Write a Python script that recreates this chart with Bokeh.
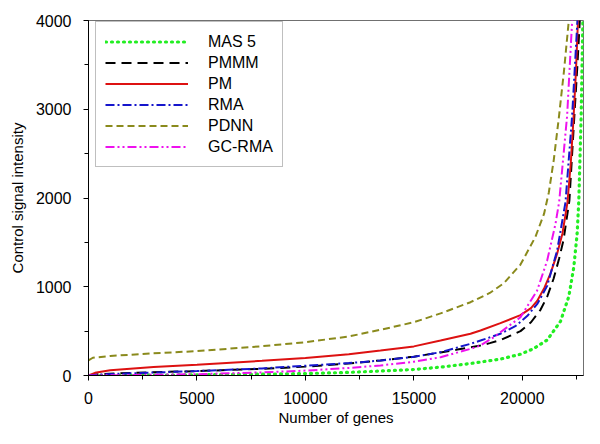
from bokeh.plotting import figure
from bokeh.models import Range1d, Legend, LegendItem, SingleIntervalTicker
from bokeh.embed import file_html
from bokeh.resources import INLINE

# ---- data ----
mas5_x = [0, 2000, 5000, 8000, 10000, 12000, 13460, 15000, 16230, 17610, 18990, 19915, 20500,
          21145, 21760, 22143, 22373, 22527, 22604, 22712, 22790, 22830]
mas5_y = [0, 2, 8, 15, 22, 35, 50, 68, 94, 135, 185, 240, 300,
          400, 610, 890, 1221, 1597, 1972, 2930, 4000, 4500]

pmmm_x = [0, 500, 2000, 5000, 8000, 10000, 12000, 13460, 15000, 16230, 17000, 18070, 18500, 19000,
          19915, 20400, 20837, 21150, 21440, 21700, 21900, 22170, 22400, 22540, 22650, 22700]
pmmm_y = [0, 15, 30, 50, 75, 100, 135, 170, 212, 260, 292, 338, 365, 400,
          500, 600, 740, 890, 1090, 1320, 1530, 1972, 2930, 3500, 4000, 4400]

pm_x = [0, 300, 1000, 3000, 5000, 8000, 10000, 12000, 13460, 15000, 16230, 17610, 18070, 18990,
        19915, 20400, 20684, 21020, 21300, 21600, 21850, 22080, 22230, 22360, 22470, 22565, 22620]
pm_y = [0, 30, 60, 95, 120, 165, 196, 240, 282, 328, 394, 470, 507, 590,
        680, 760, 840, 990, 1150, 1370, 1600, 1950, 2380, 2900, 3420, 4000, 4400]

rma_x = [0, 500, 2000, 5000, 8000, 10000, 12000, 13460, 15000, 16230, 17610, 18070, 18990, 19700,
         20223, 20700, 21145, 21606, 21990, 22297, 22540, 22600]
rma_y = [0, 10, 25, 50, 80, 110, 140, 169, 210, 263, 357, 394, 470, 560,
         670, 810, 1010, 1409, 1953, 2930, 4000, 4300]

pdnn_x = [0, 200, 1000, 3000, 5000, 8000, 10000, 12000, 13460, 15000, 16230, 17610, 18500, 19150,
          19915, 20600, 21000, 21220, 21450, 21681, 21920, 22143, 22250]
pdnn_y = [170, 200, 220, 250, 275, 330, 375, 440, 515, 600, 700, 826, 930, 1040,
          1250, 1560, 1820, 2060, 2430, 2900, 3430, 4000, 4300]

gcrma_x = [0, 2000, 5000, 8000, 10000, 12000, 13460, 15000, 16230, 17610, 18070, 18690, 19915,
           20684, 21145, 21530, 21700, 22066, 22297, 22360]
gcrma_y = [0, 5, 15, 35, 55, 85, 113, 155, 206, 300, 338, 432, 657,
           958, 1296, 1710, 1960, 2930, 4000, 4300]

series_names = ["MAS 5", "PMMM", "PM", "RMA", "PDNN", "GC-RMA"]
x_ticks = [0, 5000, 10000, 15000, 20000]
y_ticks = [0, 1000, 2000, 3000, 4000]

FONT = "Liberation Sans"

p = figure(width=584, height=428, output_backend="svg", toolbar_location=None,
           x_range=Range1d(0, 22820), y_range=Range1d(0, 4000),
           min_border_left=88, min_border_right=1, min_border_top=20, min_border_bottom=53)

p.xgrid.visible = False
p.ygrid.visible = False
p.outline_line_color = "#707070"
p.outline_line_width = 1
p.background_fill_color = "white"

styles = [
    (mas5_x, mas5_y, dict(line_color="#22ee22", line_width=3.2, line_dash="1 5", line_cap="round")),
    (pmmm_x, pmmm_y, dict(line_color="black", line_width=2, line_dash="10 6")),
    (pm_x, pm_y, dict(line_color="#dd1111", line_width=2)),
    (rma_x, rma_y, dict(line_color="#1515cc", line_width=2, line_dash="9 3 2 3")),
    (pdnn_x, pdnn_y, dict(line_color="#8a8a1c", line_width=2, line_dash="7 4")),
    (gcrma_x, gcrma_y, dict(line_color="#ee11ee", line_width=2, line_dash="9 3 2 3 2 3")),
]

items = []
for name, (xs, ys, st) in zip(series_names, styles):
    r = p.line(xs, ys, **st)
    items.append(LegendItem(label=name, renderers=[r]))

legend = Legend(items=items, location=(7, 208))
legend.glyph_width = 83
legend.glyph_height = 21
legend.spacing = 0
legend.padding = 9
legend.margin = 0
legend.label_standoff = 20
legend.label_text_font = FONT
legend.label_text_font_size = "16px"
legend.label_text_color = "black"
legend.border_line_color = "#808080"
legend.border_line_width = 1.5
legend.background_fill_color = "white"
legend.background_fill_alpha = 1.0
p.add_layout(legend, "center")

for ax in (p.xaxis[0], p.yaxis[0]):
    ax.axis_line_color = "black"
    ax.axis_line_width = 1
    ax.major_tick_in = 0
    ax.major_tick_out = 5
    ax.minor_tick_in = 0
    ax.minor_tick_out = 4
    ax.major_tick_line_color = "black"
    ax.minor_tick_line_color = "black"
    ax.major_label_text_font = FONT
    ax.major_label_text_font_size = "16px"
    ax.major_label_text_color = "black"
    ax.axis_label_text_font = FONT
    ax.axis_label_text_font_size = "15px"
    ax.axis_label_text_font_style = "normal"
    ax.axis_label_text_color = "black"

p.xaxis[0].ticker = SingleIntervalTicker(interval=5000, num_minor_ticks=2)
p.yaxis[0].ticker = SingleIntervalTicker(interval=1000, num_minor_ticks=2)
p.xaxis[0].axis_label = "Number of genes"
p.yaxis[0].axis_label = "Control signal intensity"
p.xaxis[0].major_label_standoff = 11
p.xaxis[0].axis_label_standoff = 2
p.yaxis[0].major_label_standoff = 12
p.yaxis[0].axis_label_standoff = 7

open("out.html", "w").write(file_html(p, INLINE))
